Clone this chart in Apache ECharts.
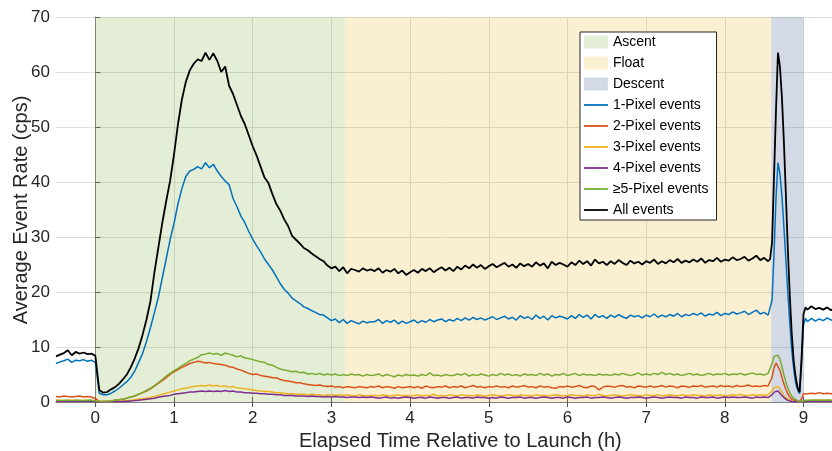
<!DOCTYPE html>
<html>
<head>
<meta charset="utf-8">
<script src="https://cdn.jsdelivr.net/npm/echarts@6/dist/echarts.min.js"></script>
<style>html,body{margin:0;padding:0;background:#fff;}#c{width:832px;height:451px;}</style>
</head>
<body>
<div id="c"></div>
<script>
// elapsed time (h)
var hours = [
-0.5,-0.45,-0.4,-0.35,-0.3,-0.25,-0.2,-0.15,-0.1,-0.05,0,
0.05,0.1,0.15,0.2,0.25,0.3,0.35,0.4,0.45,0.5,
0.55,0.6,0.65,0.7,0.75,0.8,0.85,0.9,0.95,1.0,
1.05,1.1,1.15,1.2,1.25,1.3,1.35,1.4,1.45,1.5,
1.55,1.6,1.65,1.7,1.75,1.8,1.85,1.9,1.95,2.0,
2.05,2.1,2.15,2.2,2.25,2.3,2.35,2.4,2.45,2.5,
2.55,2.6,2.65,2.7,2.75,2.8,2.85,2.9,2.95,3.0,
3.05,3.1,3.15,3.2,3.25,3.3,3.35,3.4,3.45,3.5,
3.55,3.6,3.65,3.7,3.75,3.8,3.85,3.9,3.95,4.0,
4.05,4.1,4.15,4.2,4.25,4.3,4.35,4.4,4.45,4.5,
4.55,4.6,4.65,4.7,4.75,4.8,4.85,4.9,4.95,5.0,
5.05,5.1,5.15,5.2,5.25,5.3,5.35,5.4,5.45,5.5,
5.55,5.6,5.65,5.7,5.75,5.8,5.85,5.9,5.95,6.0,
6.05,6.1,6.15,6.2,6.25,6.3,6.35,6.4,6.45,6.5,
6.55,6.6,6.65,6.7,6.75,6.8,6.85,6.9,6.95,7.0,
7.05,7.1,7.15,7.2,7.25,7.3,7.35,7.4,7.45,7.5,
7.55,7.6,7.65,7.7,7.75,7.8,7.85,7.9,7.95,8.0,
8.05,8.1,8.15,8.2,8.25,8.3,8.35,8.4,8.45,8.5,
8.55,
8.575,8.6,8.625,8.65,8.675,8.7,8.725,8.75,8.775,8.8,
8.825,8.85,8.875,8.9,8.925,8.95,8.975,9.0,9.025,9.05,
9.1,9.15,9.2,9.25,9.3,9.35,9.4
];

var onePixel = [
7.0,7.3,7.5,7.8,7.2,7.6,7.5,7.7,7.4,7.6,7.2,
1.6,1.3,1.3,1.6,2.0,2.5,3.1,3.7,4.5,5.6,
7.2,8.8,11.0,13.5,16.2,19.0,22.5,26.0,29.5,32.5,
36.0,38.8,41.0,42.0,42.3,42.8,42.4,43.5,42.6,43.2,
42.0,41.0,40.2,39.5,37.0,35.5,33.8,32.6,31.0,29.6,
28.4,27.3,26.0,25.0,24.0,22.8,21.5,20.5,19.8,18.9,
18.4,17.9,17.3,17.0,16.6,16.3,15.9,15.8,15.3,14.8,
15.1,14.4,15.0,14.3,14.8,14.5,14.2,14.7,14.4,14.6,
14.6,15.0,14.3,14.8,14.5,14.9,14.2,14.7,14.3,14.6,
14.9,14.4,14.8,14.5,15.0,14.6,14.9,15.1,14.6,15.0,
14.7,15.2,14.8,15.3,14.9,15.4,15.0,15.3,14.9,15.2,
15.5,15.0,15.3,15.6,15.1,15.4,14.9,15.7,15.2,15.5,
15.0,15.8,15.2,15.6,14.9,15.7,15.3,15.6,15.4,15.1,
15.7,15.2,15.9,15.4,15.8,15.1,15.9,15.4,15.7,15.2,
15.8,15.4,15.9,15.5,15.2,15.8,15.5,15.7,15.3,15.8,
15.5,16.0,15.4,15.8,15.5,15.9,15.6,16.1,15.5,15.9,
15.7,16.1,15.8,16.2,15.6,16.0,15.8,16.3,15.7,16.1,
15.9,16.4,16.0,16.2,16.5,15.9,16.3,16.7,16.0,16.3,
15.8,
16.0,18.5,27.0,37.0,43.5,41.5,37.5,32.0,26.0,20.0,
14.5,9.5,6.0,3.5,2.2,1.5,7.0,14.0,15.2,14.6,
15.2,14.7,15.1,14.8,15.3,14.9,15.0
];

var twoPixel = [
1.0,0.9,1.1,1.0,0.9,1.0,1.1,0.9,1.0,0.9,0.6,
0.15,0.1,0.15,0.2,0.3,0.4,0.5,0.7,0.9,1.1,
1.4,1.7,2.0,2.4,2.9,3.4,3.9,4.4,5.0,5.5,
5.9,6.3,6.6,7.0,7.2,7.4,7.3,7.1,7.2,7.0,
6.9,6.8,6.7,6.4,6.3,6.0,5.8,5.5,5.2,5.0,
5.1,4.8,4.7,4.6,4.4,4.4,4.1,3.9,3.8,3.7,
3.5,3.5,3.3,3.2,3.1,3.0,3.1,2.9,2.8,2.9,
2.7,2.8,2.6,2.8,2.7,2.6,2.8,2.7,2.6,2.8,
2.7,2.9,2.6,2.8,2.7,2.5,2.8,2.6,2.7,2.8,
2.6,2.8,2.5,2.9,2.7,2.6,2.8,2.7,2.9,2.6,
2.8,2.7,2.9,2.6,2.8,3.0,2.7,2.8,2.6,2.8,
2.7,2.9,2.7,2.8,2.6,2.9,2.7,2.8,3.0,2.7,
2.8,2.6,2.9,2.7,2.8,2.6,2.5,2.8,2.7,2.9,
2.7,2.8,3.0,2.7,2.6,2.9,2.8,2.2,2.7,2.9,
2.8,2.7,2.9,3.0,2.7,2.8,2.6,2.9,2.8,2.7,
2.9,2.7,2.8,3.0,2.7,2.9,2.8,2.6,2.9,2.8,
2.7,2.9,2.8,3.0,2.7,2.8,2.9,2.7,3.0,2.8,
2.9,2.7,3.0,2.8,2.9,3.1,2.8,2.9,2.8,3.0,
2.9,
3.2,4.5,6.2,7.1,6.8,5.8,4.5,3.3,2.3,1.5,
0.9,0.5,0.3,0.2,0.1,0.1,0.6,1.5,1.6,1.5,
1.6,1.5,1.7,1.5,1.6,1.5,1.6
];

var threePixel = [
0.3,0.3,0.25,0.3,0.3,0.3,0.25,0.3,0.3,0.3,0.2,
0.05,0.05,0.05,0.1,0.1,0.15,0.2,0.25,0.3,0.4,
0.5,0.6,0.7,0.85,1.0,1.2,1.4,1.6,1.8,2.0,
2.2,2.4,2.5,2.7,2.8,2.9,3.0,2.9,3.1,2.9,
3.0,2.8,2.9,2.7,2.8,2.6,2.5,2.4,2.3,2.2,
2.1,2.0,1.9,1.9,1.8,1.7,1.7,1.6,1.5,1.5,
1.4,1.4,1.4,1.3,1.4,1.3,1.3,1.2,1.3,1.3,
1.2,1.3,1.2,1.3,1.2,1.1,1.3,1.2,1.1,1.2,
1.2,1.1,1.3,1.2,1.1,1.2,1.3,1.1,1.2,1.1,
1.2,1.3,1.1,1.2,1.2,1.4,1.1,1.2,1.1,1.3,
1.2,1.1,1.3,1.2,1.2,1.1,1.3,1.2,1.1,1.2,
1.3,1.2,1.1,1.2,1.3,1.2,1.1,1.3,1.2,1.2,
1.1,1.3,1.2,1.2,1.1,1.2,1.3,1.2,1.1,1.2,
1.3,1.2,1.2,1.1,1.3,1.2,1.2,1.4,1.2,1.1,
1.2,1.3,1.2,1.1,1.2,1.3,1.2,1.2,1.1,1.3,
1.2,1.2,1.3,1.1,1.2,1.3,1.2,1.1,1.3,1.2,
1.2,1.3,1.2,1.2,1.1,1.3,1.2,1.2,1.3,1.1,
1.2,1.3,1.2,1.4,1.2,1.2,1.3,1.2,1.3,1.2,
1.3,
1.4,2.0,2.6,2.9,2.8,2.4,1.8,1.2,0.8,0.5,
0.3,0.2,0.1,0.1,0.05,0.05,0.1,0.2,0.25,0.3,
0.3,0.3,0.35,0.3,0.3,0.3,0.35
];

var fourPixel = [
0.15,0.15,0.12,0.15,0.15,0.15,0.12,0.15,0.15,0.15,0.1,
0.02,0.02,0.03,0.05,0.05,0.08,0.1,0.15,0.2,0.25,
0.3,0.4,0.5,0.6,0.7,0.85,1.0,1.1,1.2,1.4,
1.5,1.6,1.7,1.8,1.8,1.9,2.0,1.9,2.0,1.9,
2.0,1.9,2.1,1.9,2.0,1.8,1.8,1.7,1.7,1.6,
1.6,1.5,1.5,1.4,1.4,1.3,1.3,1.2,1.2,1.2,
1.1,1.1,1.1,1.0,1.1,1.0,1.0,0.9,1.0,0.9,
1.0,0.9,0.9,0.8,0.9,0.9,0.8,0.9,0.8,0.9,
0.8,0.7,0.8,0.9,0.7,0.8,0.7,0.8,0.9,0.8,
0.7,0.8,0.8,0.7,0.9,0.8,0.7,0.8,0.8,0.7,
0.8,0.9,0.7,0.8,0.8,0.7,0.9,0.8,0.8,0.7,
0.8,0.7,0.9,0.8,0.7,0.8,0.8,0.9,0.7,0.8,
0.8,0.7,0.8,0.9,0.8,0.7,0.8,0.8,0.7,0.9,
0.8,0.7,0.8,0.8,0.9,0.7,0.8,0.8,0.9,0.8,
0.7,0.8,0.9,0.8,0.7,0.8,0.8,0.9,0.8,0.7,
0.8,0.9,0.8,0.7,0.8,0.9,0.8,0.8,0.7,0.9,
0.8,0.8,0.7,0.9,0.8,0.8,0.9,0.7,0.8,0.9,
0.8,0.9,0.8,0.8,0.9,0.8,0.7,0.9,0.8,0.9,
0.8,
0.9,1.3,1.8,2.1,2.0,1.7,1.2,0.8,0.5,0.3,
0.2,0.1,0.05,0.05,0.03,0.03,0.05,0.1,0.15,0.15,
0.15,0.15,0.12,0.15,0.15,0.12,0.15
];

var fivePlusPixel = [
0.3,0.25,0.3,0.3,0.25,0.3,0.3,0.25,0.3,0.3,0.2,
0.1,0.1,0.15,0.2,0.3,0.4,0.5,0.7,0.9,1.1,
1.4,1.7,2.1,2.5,3.0,3.5,4.1,4.7,5.2,5.7,
6.1,6.6,7.0,7.5,7.8,8.1,8.6,8.7,8.9,8.7,
8.8,8.5,8.9,8.7,8.5,8.2,8.4,8.0,7.9,7.7,
7.5,7.3,7.2,6.8,6.7,6.3,6.0,5.8,5.7,5.5,
5.6,5.3,5.4,5.1,5.2,5.0,5.2,4.9,5.1,4.9,
5.1,4.8,5.0,4.8,5.1,4.9,5.0,4.7,5.0,4.8,
4.9,5.1,4.7,5.0,4.8,4.6,4.9,4.7,5.0,4.8,
4.9,4.7,5.0,4.8,5.3,4.8,4.9,4.7,5.0,4.8,
4.8,5.1,4.9,5.2,4.7,5.0,4.8,5.1,4.9,4.7,
5.0,4.8,5.2,4.9,5.1,4.8,5.0,4.7,5.1,4.9,
5.0,4.8,5.2,4.9,5.1,4.7,5.0,4.9,5.2,4.8,
5.0,5.2,4.8,5.1,4.9,5.0,4.8,5.1,4.9,5.0,
4.8,5.1,4.9,5.2,5.0,4.8,5.0,5.3,4.9,5.1,
4.9,5.2,5.0,5.4,5.0,5.2,4.9,5.1,4.8,5.0,
5.2,4.9,5.1,4.8,5.0,5.2,4.9,5.1,5.0,5.2,
4.9,5.1,5.0,5.2,4.9,5.1,5.3,5.0,5.1,4.9,
5.2,
5.5,7.0,8.3,8.6,8.5,7.8,6.5,5.0,3.7,2.6,
1.7,1.1,0.7,0.4,0.2,0.1,0.15,0.25,0.3,0.3,
0.3,0.35,0.3,0.3,0.35,0.3,0.3
];

var allEvents = [
8.3,8.6,8.9,9.4,8.5,9.1,8.8,9.0,8.7,8.8,8.4,
2.2,1.7,1.8,2.3,2.7,3.3,4.1,5.0,6.3,7.9,
9.8,12.2,15.0,18.3,23.5,28.0,32.5,36.5,40.2,45.0,
50.5,55.0,58.2,60.3,61.5,62.3,62.0,63.5,62.2,63.4,
62.0,60.0,61.0,57.5,56.0,54.0,52.0,50.5,48.5,46.5,
44.8,42.8,40.8,39.8,37.8,36.0,34.8,33.2,32.0,30.2,
29.5,28.8,28.0,27.6,27.0,26.5,26.0,25.6,24.8,24.3,
24.6,23.8,24.5,23.4,24.2,24.0,23.7,24.3,23.9,24.1,
23.8,24.3,23.5,24.0,23.7,24.2,23.4,23.9,23.1,23.6,
24.0,23.5,24.2,23.8,24.3,23.6,24.1,24.5,23.9,24.4,
23.8,24.6,24.1,24.8,24.3,25.0,24.4,24.9,24.2,24.7,
25.1,24.5,24.9,25.3,24.6,25.0,24.4,25.2,24.7,25.1,
24.6,25.4,24.8,25.2,24.3,25.5,24.9,25.3,25.0,24.6,
25.4,24.9,25.7,25.1,25.6,24.8,25.9,25.2,25.5,24.9,
25.6,25.1,25.8,25.3,24.9,25.7,25.2,25.5,25.0,25.6,
25.3,25.9,25.1,25.6,25.2,25.8,25.4,26.0,25.3,25.7,
25.4,25.9,25.5,26.1,25.3,25.8,25.6,26.2,25.5,25.9,
25.7,26.3,25.8,26.0,26.4,25.7,26.1,26.6,25.8,26.2,
25.6,
26.0,29.0,41.0,53.0,63.5,61.0,55.5,47.5,38.0,28.0,
19.5,12.5,7.5,4.5,2.6,1.8,8.0,16.0,17.2,16.8,
17.4,16.9,17.1,16.8,17.2,16.7,17.0
];

// flight phases (h)
var phaseNames = ['Ascent', 'Float', 'Descent'];
var phaseStart = [0, 3.17, 8.59];
var phaseEnd = [3.17, 8.59, 9.0];
var phaseColors = ['rgba(119,172,48,0.2)', 'rgba(237,177,32,0.2)', 'rgba(40,65,130,0.2)'];

var xTicks = [0, 1, 2, 3, 4, 5, 6, 7, 8, 9];

var lineNames = ['1-Pixel events', '2-Pixel events', '3-Pixel events', '4-Pixel events', '\u22655-Pixel events', 'All events'];
var lineData = [onePixel, twoPixel, threePixel, fourPixel, fivePlusPixel, allEvents];
var lineColors = ['#0072BD', '#D95319', '#EDB120', '#7E2F8E', '#77AC30', '#000000'];
var lineWidths = [1.5, 1.5, 1.5, 1.5, 1.5, 1.8];

function pairs(vals) {
  var out = [];
  for (var i = 0; i < vals.length; i++) out.push([hours[i], vals[i]]);
  return out;
}

var series = [];
for (var p = 0; p < phaseNames.length; p++) {
  series.push({
    name: phaseNames[p], type: 'line', data: [], symbol: 'none',
    itemStyle: { color: phaseColors[p] },
    lineStyle: { color: phaseColors[p] },
    z: 1,
    markArea: {
      silent: true,
      itemStyle: { color: phaseColors[p] },
      data: [[{ xAxis: phaseStart[p] }, { xAxis: phaseEnd[p] }]]
    }
  });
}
for (var k = 0; k < lineNames.length; k++) {
  series.push({
    name: lineNames[k], type: 'line', data: pairs(lineData[k]),
    symbol: 'none', showSymbol: false, animation: false,
    itemStyle: { color: lineColors[k] },
    lineStyle: { color: lineColors[k], width: lineWidths[k] },
    z: 3 + k
  });
}

var legendData = [];
for (var a = 0; a < phaseNames.length; a++) legendData.push({ name: phaseNames[a], icon: 'rect' });
for (var b = 0; b < lineNames.length; b++) {
  legendData.push({
    name: lineNames[b],
    itemStyle: { color: 'rgba(0,0,0,0)', borderColor: 'rgba(0,0,0,0)', borderWidth: 0, opacity: 0 },
    lineStyle: { color: lineColors[b], width: 1.8, opacity: 1 }
  });
}

var FONT = 'Liberation Sans, Arial, Helvetica, sans-serif';
var chart = echarts.init(document.getElementById('c'), null, { renderer: 'canvas' });
chart.setOption({
  animation: false,
  backgroundColor: '#ffffff',
  textStyle: { fontFamily: FONT },
  grid: { left: 56, right: -3, top: 17, bottom: 49, containLabel: false, outerBoundsMode: 'none' },
  legend: {
    orient: 'vertical', left: 580, top: 32, data: legendData,
    itemWidth: 24, itemHeight: 13, itemGap: 7, padding: [3, 8, 3, 3],
    borderColor: '#262626', borderWidth: 1, backgroundColor: '#ffffff',
    textStyle: { fontSize: 14, color: '#000', fontFamily: FONT },
    selectedMode: false, z: 20
  },
  xAxis: [{
    type: 'value', min: -0.5, max: 9.4, position: 'bottom',
    axisLine: { show: true, onZero: false, lineStyle: { color: '#808080', width: 1 } },
    axisTick: { show: true, inside: true, length: 5, customValues: xTicks, lineStyle: { color: '#555' } },
    axisLabel: { customValues: xTicks, fontSize: 17, color: '#262626', margin: 8, fontFamily: FONT },
    splitLine: { show: true, lineStyle: { color: '#dedede', width: 1 } }
  }, {
    type: 'value', min: -0.5, max: 9.4, position: 'top',
    axisLine: { show: true, lineStyle: { color: '#808080', width: 1 } },
    axisTick: { show: true, inside: true, length: 5, customValues: xTicks, lineStyle: { color: '#555' } },
    axisLabel: { show: false },
    splitLine: { show: false }
  }],
  yAxis: {
    type: 'value', min: 0, max: 70, interval: 10,
    axisLine: { show: true, lineStyle: { color: '#808080', width: 1 } },
    axisTick: { show: true, inside: true, length: 5, lineStyle: { color: '#555' } },
    axisLabel: { fontSize: 17, color: '#262626', margin: 6, fontFamily: FONT },
    splitLine: { show: true, lineStyle: { color: '#dedede', width: 1 } }
  },
  graphic: [{
    type: 'text', left: 299, top: 431,
    style: { text: 'Elapsed Time Relative to Launch (h)', fontSize: 20, fill: '#262626', fontFamily: FONT }
  }, {
    type: 'text', x: 21, y: 210, rotation: Math.PI / 2,
    style: { text: 'Average Event Rate (cps)', fontSize: 20, fill: '#262626', fontFamily: FONT,
             align: 'center', verticalAlign: 'middle' }
  }],
  series: series
});
</script>
</body>
</html>
